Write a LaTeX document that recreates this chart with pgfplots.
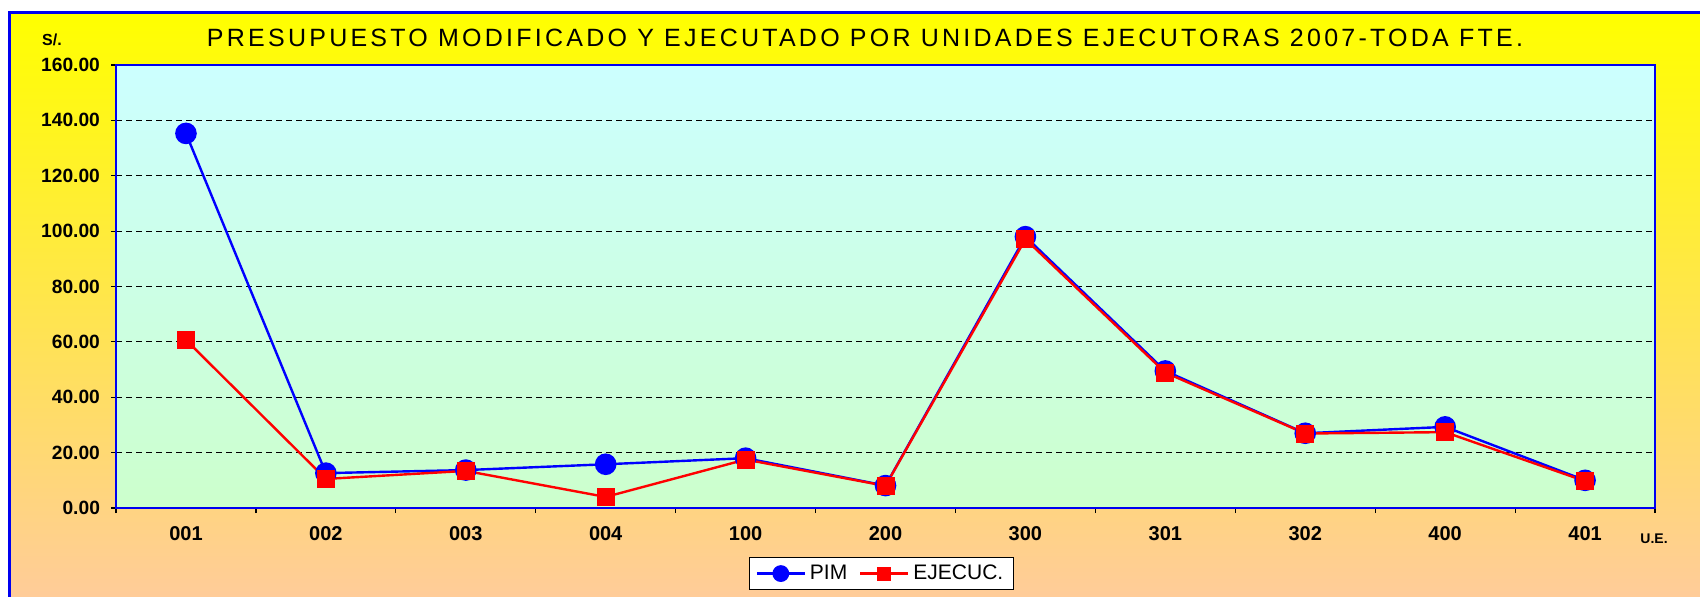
\documentclass[border=0pt]{standalone}
\usepackage{fontspec}
\setmainfont{Liberation Sans}
\newfontfamily\titlefont[LetterSpace=13]{Liberation Sans}
\usepackage{pgfplots}
\usepackage{pgfplotstable}
\pgfplotsset{compat=1.18}

\definecolor{pimblue}{RGB}{0,0,255}
\definecolor{ejred}{RGB}{255,0,0}
\definecolor{frameblue}{RGB}{0,0,240}
\definecolor{bgtop}{RGB}{255,255,0}
\definecolor{bgbot}{RGB}{255,204,153}
\definecolor{plottop}{RGB}{204,255,255}
\definecolor{plotbot}{RGB}{204,255,204}

% U.E. index, PIM, EJECUC. (millions S/.)
\pgfplotstableread{
x pim ejec
0 135.3 60.7
1 12.6 10.5
2 13.7 13.4
3 15.8 4.0
4 18.0 17.5
5 8.1 8.0
6 98.0 97.1
7 49.5 48.9
8 27.0 26.9
9 29.3 27.4
10 10.0 9.7
}\uedata

\begin{document}
\begin{tikzpicture}
\path[use as bounding box] (-58pt,-44pt) rectangle (792pt,254pt);
\fill[white] (-58pt,-44pt) rectangle (792pt,254pt);
\shade[top color=bgtop, bottom color=bgbot] (-53pt,-44pt) rectangle (792pt,247.5pt);
\draw[frameblue, line width=1.5pt] (-53pt,-45pt) -- (-53pt,247.5pt) -- (793pt,247.5pt);
\begin{axis}[
    scale only axis,
    width=769.5pt, height=221.5pt,
    xmin=-0.5, xmax=10.5,
    ymin=0, ymax=160,
    ytick={0,20,...,160},
    xtick={0,...,10},
    xticklabels={001,002,003,004,100,200,300,301,302,400,401},
    minor xtick={-0.5,0.5,...,10.5},
    major x tick style={draw=none},
    tick align=outside,
    major tick length=2.5pt,
    minor tick length=2.5pt,
    xtick pos=bottom, ytick pos=left,
    tick style={black, line width=0.6pt},
    yticklabel style={/pgf/number format/fixed, /pgf/number format/fixed zerofill,
        /pgf/number format/precision=2, /pgf/number format/assume math mode=true,
        font=\fontsize{9.6}{11}\selectfont\bfseries, xshift=-2pt},
    xticklabel style={font=\fontsize{10}{12}\selectfont\bfseries, yshift=-3pt},
    ymajorgrids,
    major grid style={black, line width=0.5pt, dash pattern=on 3pt off 2pt},
    axis line style={frameblue, line width=1.2pt},
    axis background/.style={shade, top color=plottop, bottom color=plotbot},
    legend style={at={(0.4974,-0.148)}, anchor=center, legend columns=2,
        draw=black, fill=white, font=\fontsize{10.5}{12}\selectfont,
        inner ysep=1.5pt,
        /tikz/every even column/.append style={column sep=4pt}},
    legend image code/.code={\draw[mark repeat=2, mark phase=2, #1,
        every mark/.append style={scale=0.75}]
        plot coordinates {(0cm,0cm) (0.42cm,0cm) (0.84cm,0cm)};},
]
\addplot[pimblue, line width=1.2pt, mark=*, mark size=4.8pt,
    mark options={fill=pimblue, draw=pimblue}] table[x=x, y=pim] {\uedata};
\addlegendentry{PIM}
\addplot[ejred, line width=1.2pt, mark=square*, mark size=3.9pt,
    mark options={fill=ejred, draw=ejred}] table[x=x, y=ejec] {\uedata};
\addlegendentry{EJECUC.}
\end{axis}
\node[font=\titlefont\fontsize{12.5}{14}\selectfont] at (374.5pt,235pt)
    {PRESUPUESTO MODIFICADO Y EJECUTADO POR UNIDADES EJECUTORAS 2007-TODA FTE.};
\node[font=\fontsize{8}{9}\selectfont\bfseries] at (-32pt,234pt) {S/.};
\node[font=\fontsize{7}{8}\selectfont\bfseries] at (769pt,-15.5pt) {U.E.};
\end{tikzpicture}
\end{document}
